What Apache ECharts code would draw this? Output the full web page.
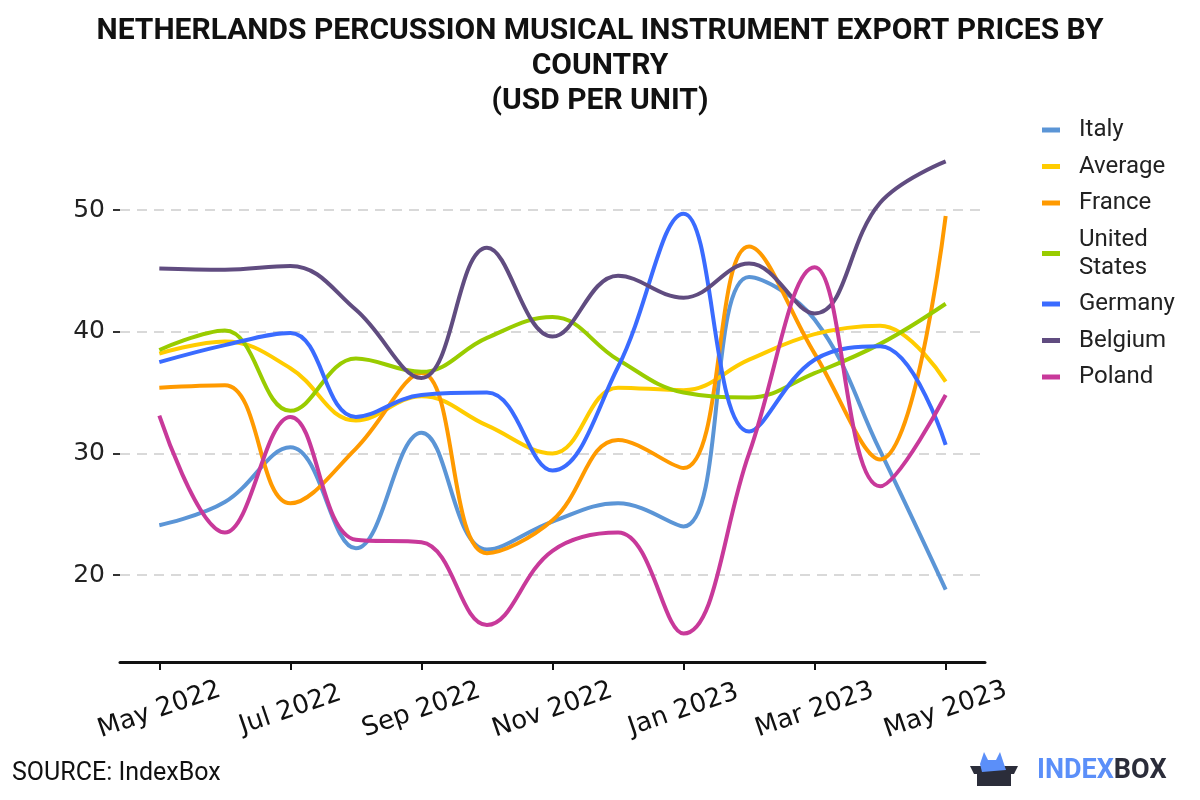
<!DOCTYPE html>
<html>
<head>
<meta charset="utf-8">
<script src="https://cdn.jsdelivr.net/npm/echarts@6/dist/echarts.min.js"></script>
<style>
html,body{margin:0;padding:0;background:#fff;}
#chart{width:1200px;height:800px;}
</style>
</head>
<body>
<div id="chart"></div>
<script>
var months = ['May 2022','Jun 2022','Jul 2022','Aug 2022','Sep 2022','Oct 2022','Nov 2022','Dec 2022','Jan 2023','Feb 2023','Mar 2023','Apr 2023','May 2023'];
var tickMonths = [0, 2, 4, 6, 8, 10, 12];
var yTicks = [20, 30, 40, 50];

var italy   = [24.1, 26.0, 30.5, 22.2, 31.7, 22.1, 24.4, 25.9, 24.0, 44.5, 41.0, 30.2, 18.8];
var average = [38.2, 39.2, 37.0, 32.7, 34.7, 32.3, 30.0, 35.4, 35.2, 37.7, 39.8, 40.5, 35.9];
var france  = [35.4, 35.6, 25.9, 30.4, 36.6, 21.8, 24.5, 31.1, 28.8, 47.0, 38.2, 29.5, 49.5];
var unitedStates = [38.5, 40.1, 33.5, 37.8, 36.7, 39.5, 41.2, 37.7, 35.0, 34.6, 36.6, 39.0, 42.3];
var germany = [37.5, 38.9, 39.9, 33.0, 34.8, 35.0, 28.6, 37.1, 49.7, 31.8, 37.7, 38.8, 30.7];
var belgium = [45.2, 45.1, 45.4, 41.8, 36.2, 46.9, 39.6, 44.6, 42.8, 45.6, 41.5, 50.6, 54.0];
var poland  = [33.1, 23.5, 33.0, 22.9, 22.7, 15.9, 22.0, 23.5, 15.2, 30.0, 45.3, 27.3, 34.8];

var seriesDefs = [
  {name: 'Italy', data: italy, color: '#5b95d6'},
  {name: 'Average', data: average, color: '#ffcc00'},
  {name: 'France', data: france, color: '#ff9a00'},
  {name: 'United States', data: unitedStates, color: '#99cc00'},
  {name: 'Germany', data: germany, color: '#3a6bff'},
  {name: 'Belgium', data: belgium, color: '#604c80'},
  {name: 'Poland', data: poland, color: '#c8399a'}
];

var chart = echarts.init(document.getElementById('chart'), null, {renderer: 'canvas'});

var series = seriesDefs.map(function (s) {
  return {
    name: s.name,
    type: 'line',
    smooth: 0.4,
    showSymbol: false,
    symbol: 'none',
    data: s.data.map(function (v, i) { return [i, v]; }),
    lineStyle: {width: 4, color: s.color},
    itemStyle: {color: s.color},
    emphasis: {disabled: true}
  };
});

chart.setOption({
  animation: false,
  backgroundColor: '#ffffff',
  title: {
    text: 'NETHERLANDS PERCUSSION MUSICAL INSTRUMENT EXPORT PRICES BY\nCOUNTRY\n(USD PER UNIT)',
    left: 'center',
    top: 9,
    textStyle: {
      fontFamily: 'Roboto',
      fontWeight: 'bold',
      fontSize: 30,
      lineHeight: 35,
      color: '#111111'
    }
  },
  legend: {
    orient: 'vertical',
    left: 1037,
    top: 111,
    icon: 'rect',
    itemWidth: 18,
    itemHeight: 5,
    itemGap: 8.5,
    formatter: function (n) { return n === 'United States' ? 'United\nStates' : n; },
    textStyle: {fontFamily: 'Roboto', fontSize: 24, lineHeight: 28, color: '#222222', padding: [0, 0, 0, 14]},
    data: seriesDefs.map(function (s) { return s.name; })
  },
  grid: {left: 120, right: 215, top: 137, height: 525, containLabel: false},
  xAxis: {
    type: 'value',
    min: -0.6,
    max: 12.6,
    axisLine: {show: true, onZero: false, lineStyle: {color: '#111111', width: 3}},
    axisTick: {show: true, customValues: tickMonths, length: 8, lineStyle: {color: '#111111', width: 2}},
    axisLabel: {
      customValues: tickMonths,
      formatter: function (v) { return months[Math.round(v)] || ''; },
      rotate: 19,
      align: 'center',
      verticalAlign: 'middle',
      margin: 48,
      fontFamily: 'DejaVu Sans',
      fontSize: 26,
      color: '#111111'
    },
    splitLine: {show: false}
  },
  yAxis: {
    type: 'value',
    min: 12.86,
    max: 56,
    splitNumber: 5,
    axisLine: {show: false, onZero: false},
    axisTick: {show: true, customValues: yTicks, length: 7, lineStyle: {color: '#333333', width: 2}},
    axisLabel: {
      customValues: yTicks,
      fontFamily: 'DejaVu Sans',
      fontSize: 25,
      color: '#222222',
      margin: 15
    },
    splitLine: {show: true, lineStyle: {color: '#d9d9d9', width: 2, type: [10, 7]}}
  },
  series: series,
  graphic: [
    {
      type: 'text', left: 12, top: 761,
      style: {text: 'SOURCE: IndexBox', fontFamily: 'Roboto', fontSize: 25, fill: '#111111'}
    },
    {
      type: 'group', left: 970, top: 752,
      children: [
        {type: 'polygon', shape: {points: [[14, 0], [18, 8], [26, 8], [30, 0], [34, 12], [10, 12]]}, style: {fill: '#5b8ff9'}},
        {type: 'polygon', shape: {points: [[0, 14], [48, 14], [44, 22], [41, 22], [41, 34], [7, 34], [7, 22], [4, 22]]}, style: {fill: '#2b2d3a'}},
        {type: 'polygon', shape: {points: [[10, 12], [34, 12], [36, 18], [12, 20]]}, style: {fill: '#5b8ff9'}}
      ]
    },
    {
      type: 'text', left: 1037, top: 758,
      style: {
        text: '{a|INDEX}{b|BOX}',
        rich: {
          a: {fontFamily: 'Roboto', fontWeight: 'bold', fontSize: 27, fill: '#5b8ff9', color: '#5b8ff9'},
          b: {fontFamily: 'Roboto', fontWeight: 'bold', fontSize: 27, fill: '#2b2d3a', color: '#2b2d3a'}
        }
      }
    }
  ]
});
</script>
</body>
</html>
